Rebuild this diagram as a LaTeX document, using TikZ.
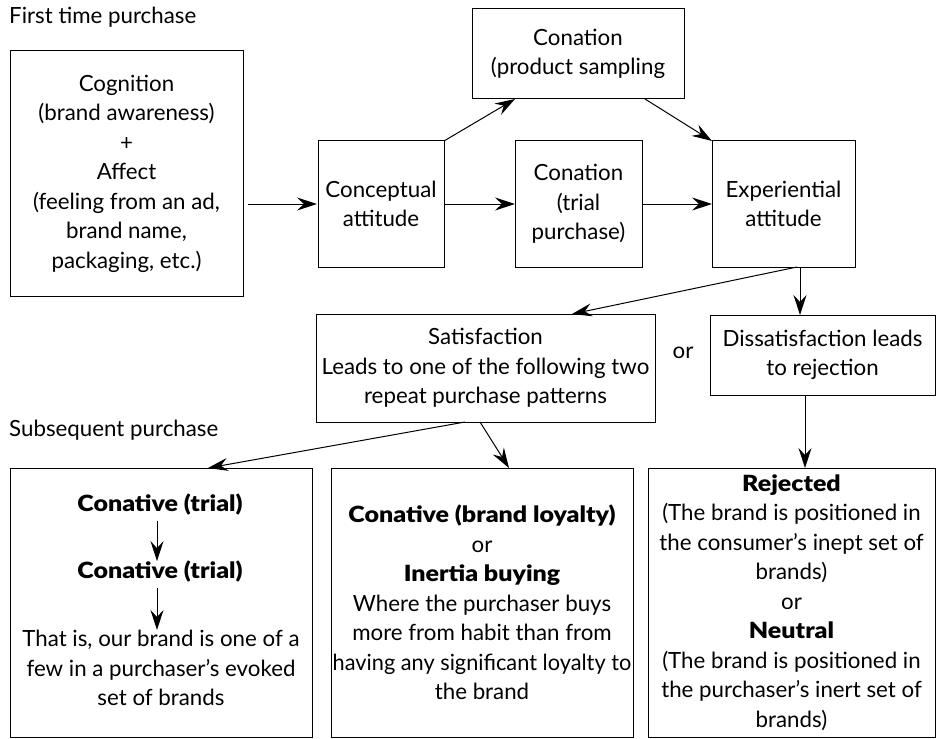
\documentclass[tikz,border=0pt]{standalone}
\usepackage{fontspec}
\usepackage{graphicx}
\setmainfont{Lato}[BoldFont={Lato Black},BoldFeatures={FakeStretch=1.12}]
\usetikzlibrary{arrows.meta,calc}
\begin{document}
\begin{tikzpicture}[x=1pt,y=-1pt,
  txt/.style={font=\fontsize{22.3}{29.5}\selectfont, align=center, inner sep=0pt},
  box/.style={txt, draw, line width=1pt, outer sep=0pt},
  arr/.style={-{Stealth[length=20pt,width=13pt,inset=7pt]}, line width=1pt}]
\useasboundingbox (0,0) rectangle (941,738);
\node[txt,anchor=west] (t1) at (9,17) {First time purchase};
\node[box,minimum width=233,minimum height=245] (cog) at (126.5,173.5)
  {Cognition\\(brand awareness)\\+\\Affect\\(feeling from an ad,\\brand name,\\packaging, etc.)};
\node[box,minimum width=126,minimum height=126] (con) at (381,204) {Conceptual\\attitude};
\node[box,minimum width=212,minimum height=90] (samp) at (578,54) {Conation\\(product sampling};
\node[box,minimum width=127,minimum height=126] (trial) at (578.5,204) {Conation\\(trial\\purchase)};
\node[box,minimum width=143,minimum height=126] (exp) at (783.5,204) {Experiential\\attitude};
\node[box,minimum width=339,minimum height=108] (sat) at (485.5,368)
  {Satisfaction\\Leads to one of the following two\\repeat purchase patterns};
\node[txt] (or1) at (683,353) {or};
\node[box,minimum width=225,minimum height=80] (dis) at (822.5,355) {Dissatisfaction leads\\to rejection};
\node[txt,anchor=west] (t2) at (9,430) {Subsequent purchase};
\node[box,minimum width=302,minimum height=269] (b1) at (161,602.5) {};
\node[txt] (ct1) at (160,505) {\textbf{Conative (trial)}};
\node[txt] (ct2) at (160,572) {\textbf{Conative (trial)}};
\node[txt] (ct3) at (161,668) {That is, our brand is one of a\\few in a purchaser’s evoked\\set of brands};
\node[box,minimum width=302,minimum height=269] (b2) at (482,602.5)
  {\textbf{Conative (brand loyalty)}\\or\\\textbf{Inertia buying}\\Where the purchaser buys\\more from habit than from\\\scalebox{0.975}[1]{having any significant loyalty to}\\the brand};
\node[box,minimum width=287,minimum height=269] (b3) at (791.5,602.5)
  {\textbf{Rejected}\\(The brand is positioned in\\the consumer’s inept set of\\brands)\\or\\\textbf{Neutral}\\(The brand is positioned in\\the purchaser’s inert set of\\brands)};
% connectors
\draw[arr,shorten <=5pt,shorten >=1pt] (cog.east |- con.west) -- (con.west);
\draw[arr] (con.east) -- (trial.west);
\draw[arr] (trial.east) -- (exp.west);
\draw[arr] (con.north east) -- ([xshift=-63]samp.south);
\draw[arr] ([xshift=67]samp.south) -- (exp.north west);
\draw[arr] ([xshift=13.5]exp.south) -- ([xshift=86.5]sat.north);
\draw[arr] ([xshift=16.5]exp.south) -- ([xshift=16.5]exp.south |- dis.north);
\draw[arr] ([xshift=-17.5]dis.south) -- ([xshift=-17.5]dis.south |- b3.north);
\draw[arr] ([xshift=-20.5]sat.south) -- ([xshift=47]b1.north);
\draw[arr] ([xshift=-5.5]sat.south) -- ([xshift=27]b2.north);
\draw[arr,shorten <=5pt] ([xshift=-3]ct1.south) -- ([xshift=-3]ct1.south |- ct2.north);
\draw[arr,shorten <=5pt] ([xshift=-3]ct2.south) -- ([xshift=-3]ct2.south |- ct3.north);
\end{tikzpicture}
\end{document}
